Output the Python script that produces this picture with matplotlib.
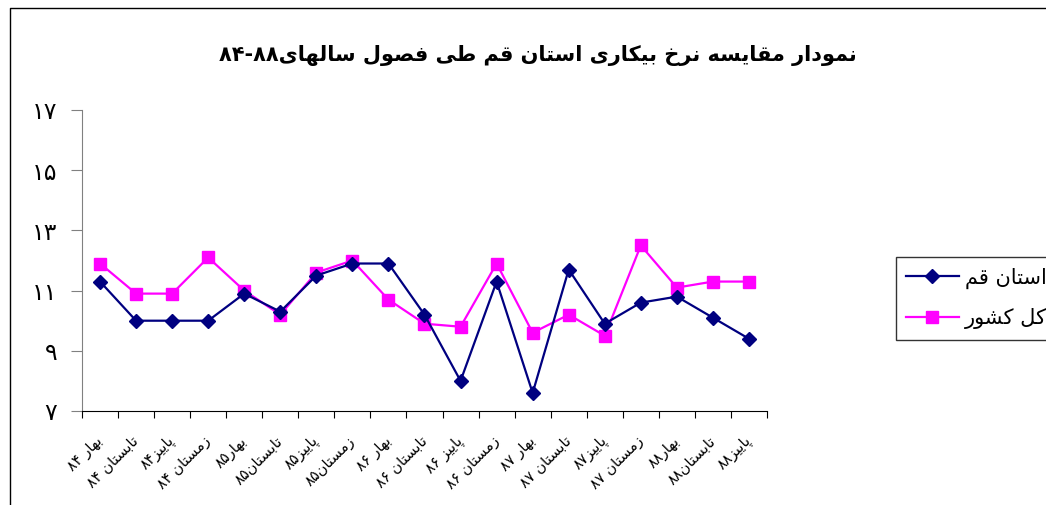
import matplotlib
matplotlib.use('Agg')
import matplotlib.pyplot as plt
import matplotlib.transforms as mtransforms
from matplotlib.lines import Line2D
import numpy as np

plt.rcParams['font.family'] = ['DejaVu Sans']

# --- data ---
seasons = ['بهار ۸۴', 'تابستان ۸۴', 'پاییز۸۴', 'زمستان ۸۴',
           'بهار۸۵', 'تابستان۸۵', 'پاییز۸۵', 'زمستان۸۵',
           'بهار ۸۶', 'تابستان ۸۶', 'پاییز ۸۶', 'زمستان ۸۶',
           'بهار ۸۷', 'تابستان ۸۷', 'پاییز۸۷', 'زمستان ۸۷',
           'بهار۸۸', 'تابستان۸۸', 'پاییز۸۸']
qom = [11.3, 10.0, 10.0, 10.0, 10.9, 10.3, 11.5, 11.9, 11.9, 10.2,
       8.0, 11.3, 7.6, 11.7, 9.9, 10.6, 10.8, 10.1, 9.4]
country = [11.9, 10.9, 10.9, 12.1, 11.0, 10.2, 11.6, 12.0, 10.7, 9.9,
           9.8, 11.9, 9.6, 10.2, 9.5, 12.5, 11.1, 11.3, 11.3]
yticks = [7, 9, 11, 13, 15, 17]
title = 'نمودار مقایسه نرخ بیکاری استان قم طی فصول سالهای۸۸-۸۴'
name_qom = 'استان قم'
name_country = 'کل کشور'

# --- simple arabic shaping (matplotlib has no shaping engine) ---
# iso, fin, ini, med ; None for letters that only join to the right
forms = {
    'ا': ('\uFE8D', '\uFE8E', None, None),
    'ب': ('\uFE8F', '\uFE90', '\uFE91', '\uFE92'),
    'ت': ('\uFE95', '\uFE96', '\uFE97', '\uFE98'),
    'خ': ('\uFEA5', '\uFEA6', '\uFEA7', '\uFEA8'),
    'د': ('\uFEA9', '\uFEAA', None, None),
    'ر': ('\uFEAD', '\uFEAE', None, None),
    'ز': ('\uFEAF', '\uFEB0', None, None),
    'س': ('\uFEB1', '\uFEB2', '\uFEB3', '\uFEB4'),
    'ش': ('\uFEB5', '\uFEB6', '\uFEB7', '\uFEB8'),
    'ص': ('\uFEB9', '\uFEBA', '\uFEBB', '\uFEBC'),
    'ط': ('\uFEC1', '\uFEC2', '\uFEC3', '\uFEC4'),
    'ف': ('\uFED1', '\uFED2', '\uFED3', '\uFED4'),
    'ق': ('\uFED5', '\uFED6', '\uFED7', '\uFED8'),
    'ل': ('\uFEDD', '\uFEDE', '\uFEDF', '\uFEE0'),
    'م': ('\uFEE1', '\uFEE2', '\uFEE3', '\uFEE4'),
    'ن': ('\uFEE5', '\uFEE6', '\uFEE7', '\uFEE8'),
    'ه': ('\uFEE9', '\uFEEA', '\uFEEB', '\uFEEC'),
    'و': ('\uFEED', '\uFEEE', None, None),
    'ی': ('\uFBFC', '\uFBFD', '\uFBFE', '\uFBFF'),
    'ک': ('\uFB8E', '\uFB8F', '\uFB90', '\uFB91'),
    'پ': ('\uFB56', '\uFB57', '\uFB58', '\uFB59'),
}


def dual(c):
    return c in forms and forms[c][2] is not None


def fa(s):
    out = []
    for i, c in enumerate(s):
        if c not in forms:
            out.append(c)
            continue
        prev = s[i - 1] if i > 0 else ''
        nxt = s[i + 1] if i < len(s) - 1 else ''
        p = dual(prev)
        n = dual(c) and nxt in forms
        f = forms[c]
        if p and n:
            out.append(f[3])
        elif p:
            out.append(f[1])
        elif n:
            out.append(f[2])
        else:
            out.append(f[0])
    # visual order: reverse, but keep digit runs left-to-right
    tokens = []
    for c in out:
        if c.isdigit() and tokens and tokens[-1][-1].isdigit():
            tokens[-1] += c
        else:
            tokens.append(c)
    return ''.join(tokens[::-1])


def fa_num(v):
    return str(v).translate(str.maketrans('0123456789', '۰۱۲۳۴۵۶۷۸۹'))


fig = plt.figure(figsize=(10.46, 5.05), dpi=100)
ax = fig.add_axes([82/1046, 1 - 411/505, (767 - 82)/1046, (411 - 110)/505])

x = np.arange(len(seasons))
ax.plot(x, qom, color='#000080', linewidth=1.6, marker='D', markersize=7,
        label=fa(name_qom), zorder=3)
ax.plot(x, country, color='#FF00FF', linewidth=1.6, marker='s', markersize=8,
        label=fa(name_country), zorder=2)

ax.set_xlim(-0.5, len(seasons) - 0.5)
ax.set_ylim(7, 17)
ax.set_yticks(yticks)
ax.set_yticklabels([fa_num(v) for v in yticks], fontsize=17)
ax.set_xticks(np.arange(len(seasons) + 1) - 0.5)
ax.set_xticklabels([])
ax.set_xticks(x, minor=True)
ax.set_xticklabels([fa(s) for s in seasons], minor=True, fontsize=10.5,
                   rotation=45, ha='right', va='center', rotation_mode='anchor')
shift = mtransforms.ScaledTranslation(-10/100, 0, fig.dpi_scale_trans)
for lab in ax.get_xticklabels(minor=True):
    lab.set_transform(lab.get_transform() + shift)
ax.tick_params(axis='x', which='minor', length=0, pad=20)
ax.tick_params(axis='x', which='major', length=5, direction='out', color='black')
ax.tick_params(axis='y', length=8, direction='out', color='#808080', pad=10)

for s in ['top', 'right']:
    ax.spines[s].set_visible(False)
ax.spines['left'].set_color('#808080')
ax.spines['bottom'].set_color('black')

fig.text(538/1046, 1 - 55/505, fa(title), ha='center', va='center',
         fontsize=15, fontweight='bold')

leg = fig.legend(loc='upper left', bbox_to_anchor=(896/1046, 1 - 257/505),
                 borderaxespad=0, fontsize=15, frameon=True, fancybox=False,
                 borderpad=0.5, labelspacing=0.95, handlelength=2.5,
                 handletextpad=0.3)
leg.get_frame().set_edgecolor('black')
leg.get_frame().set_linewidth(1)

# chart area border (cropped on right/bottom)
fig.add_artist(Line2D([10/1046, 10/1046, 1.0], [0.0, 1 - 8/505, 1 - 8/505],
                      transform=fig.transFigure, color='black', linewidth=1))

fig.savefig('out.png', dpi=100)
